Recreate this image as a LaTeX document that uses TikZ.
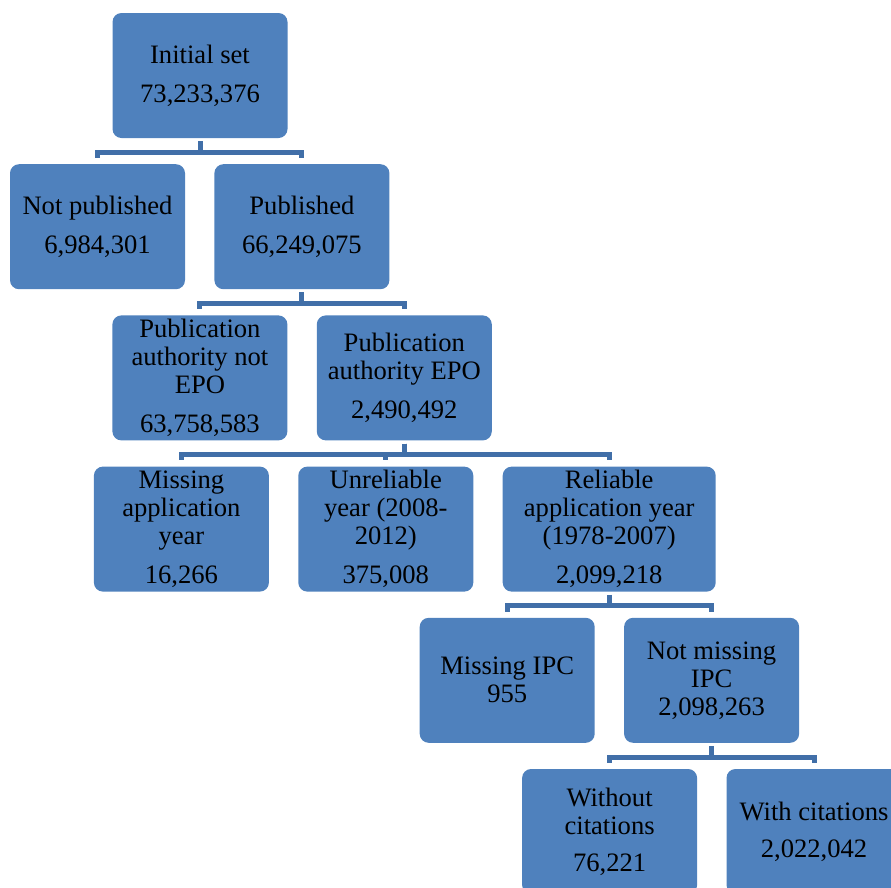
\documentclass[tikz,border=0pt]{standalone}
\usepackage{fontspec}
\setmainfont{Liberation Serif}
\newfontfamily\boxfont{Liberation Serif}
\usepackage{xcolor}
\usepackage{tikz}
\usetikzlibrary{positioning}

\definecolor{boxblue}{HTML}{4F81BD}
\definecolor{linkblue}{HTML}{416FA8}

\begin{document}
\begin{tikzpicture}[node distance=25.8pt and 29pt,
  box/.style={fill=boxblue,rounded corners=9pt,minimum width=175pt,
    minimum height=125pt,align=center,inner sep=2pt,
    font=\boxfont\fontsize{26.6}{28}\selectfont},
  link/.style={draw=linkblue,line width=5pt}]
  \clip (0,0) rectangle (891pt,-887pt);
  \node[box] (init) at (200pt,-75.5pt) {Initial set\\[11pt]73,233,376};
  \node[box] (notpub) [below=of init,xshift=-102.5pt] {Not published\\[11pt]6,984,301};
  \node[box] (pub) [right=of notpub] {Published\\[11pt]66,249,075};
  \node[box] (notepo) [below=of pub,xshift=-102pt] {Publication\\authority not\\EPO\\[11pt]63,758,583};
  \node[box] (epo) [right=of notepo] {Publication\\authority EPO\\[11pt]2,490,492};
  \node[box] (missyear) [below=of notepo,xshift=-18.5pt] {Missing\\application\\year\\[11pt]16,266};
  \node[box] (unrel) [right=of missyear] {Unreliable\\year (2008-\\2012)\\[11pt]375,008};
  \node[box,minimum width=213pt] (rel) [right=of unrel] {Reliable\\application year\\(1978-2007)\\[11pt]2,099,218};
  \node[box] (missipc) [below=of rel,xshift=-102pt] {Missing IPC\\955};
  \node[box] (notmissipc) [right=of missipc] {Not missing\\IPC\\2,098,263};
  \node[box] (withoutcit) [below=of notmissipc,xshift=-102pt] {Without\\citations\\[9pt]76,221};
  \node[box] (withcit) [right=of withoutcit] {With citations\\[9pt]2,022,042};
  % connectors
  \foreach \from/\to in {init/notpub,init/pub,pub/notepo,pub/epo,
    epo/missyear,epo/unrel,epo/rel,rel/missipc,rel/notmissipc,
    notmissipc/withoutcit,notmissipc/withcit}
    \draw[link] ([yshift=-3pt]\from.south) -- ++(0,-11pt) -| ([yshift=6pt]\to.north);
\end{tikzpicture}
\end{document}
